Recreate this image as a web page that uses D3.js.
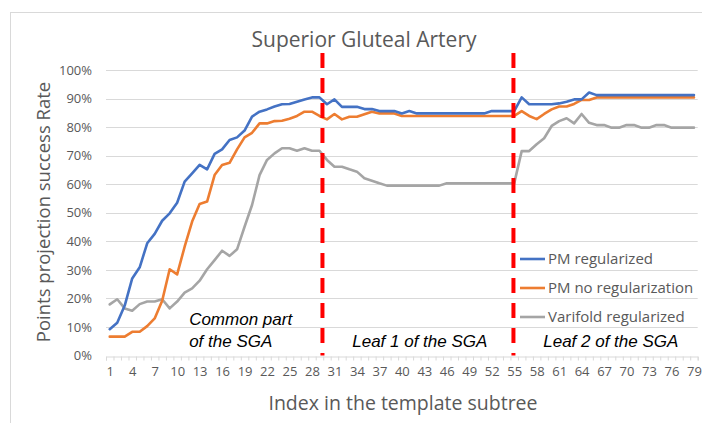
<!DOCTYPE html>
<html>
<head>
<meta charset="utf-8">
<script src="https://cdn.jsdelivr.net/npm/d3@7/dist/d3.min.js"></script>
<style>
  html, body { margin: 0; padding: 0; background: #fff; }
  svg { display: block; }
</style>
</head>
<body>
<svg id="chart" width="702" height="423"></svg>
<script>
// Category indices of the template subtree (1..79)
const categories = d3.range(1, 80);

// Success rate (%) per index
const pmRegularized = [
  9.2, 11.5, 17.5, 27.0, 30.9, 39.3, 42.6, 47.2, 49.8, 53.5,
  60.9, 63.8, 66.8, 65.2, 70.6, 72.2, 75.5, 76.4, 78.8, 83.7,
  85.4, 86.2, 87.2, 88.0, 88.1, 88.9, 89.7, 90.4, 90.4, 88.0,
  89.7, 87.1, 87.1, 87.1, 86.3, 86.3, 85.6, 85.6, 85.6, 84.8,
  85.6, 84.8, 84.8, 84.8, 84.8, 84.8, 84.8, 84.8, 84.8, 84.8,
  84.8, 85.6, 85.6, 85.6, 85.6, 90.4, 88.0, 88.0, 88.0, 88.0,
  88.3, 88.9, 89.7, 89.7, 92.1, 91.2, 91.2, 91.2, 91.2, 91.2,
  91.2, 91.2, 91.2, 91.2, 91.2, 91.2, 91.2, 91.2, 91.2
];
const pmNoRegularization = [
  6.6, 6.6, 6.6, 8.3, 8.3, 10.3, 13.0, 19.2, 30.2, 28.4,
  38.1, 46.9, 53.1, 53.9, 63.2, 66.7, 67.5, 72.2, 76.4, 78.0,
  81.3, 81.3, 82.1, 82.2, 82.9, 83.9, 85.4, 85.4, 83.9, 82.7,
  84.6, 82.7, 83.6, 83.6, 84.5, 85.4, 84.8, 84.8, 84.8, 83.9,
  83.9, 83.9, 83.9, 83.9, 83.9, 83.9, 83.9, 83.9, 83.9, 83.9,
  83.9, 83.9, 83.9, 83.9, 83.9, 85.6, 83.9, 82.8, 84.6, 86.2,
  87.2, 87.2, 88.1, 89.5, 89.5, 90.4, 90.4, 90.4, 90.4, 90.4,
  90.4, 90.4, 90.4, 90.4, 90.4, 90.4, 90.4, 90.4, 90.4
];
const varifoldRegularized = [
  17.9, 19.7, 16.5, 15.7, 18.0, 18.9, 18.9, 19.7, 16.5, 18.9,
  22.0, 23.5, 26.2, 30.2, 33.4, 36.7, 34.9, 37.2, 45.1, 52.7,
  63.2, 68.5, 70.8, 72.6, 72.6, 71.7, 72.6, 71.7, 71.7, 68.5,
  66.1, 66.1, 65.2, 64.4, 62.1, 61.2, 60.3, 59.5, 59.5, 59.5,
  59.5, 59.5, 59.5, 59.5, 59.5, 60.3, 60.3, 60.3, 60.3, 60.3,
  60.3, 60.3, 60.3, 60.3, 60.3, 71.6, 71.6, 74.0, 76.1, 80.4,
  82.1, 83.1, 81.3, 84.6, 81.5, 80.7, 80.7, 79.8, 79.8, 80.7,
  80.7, 79.8, 79.8, 80.7, 80.7, 79.8, 79.8, 79.8, 79.8
];

const seriesNames = ["PM regularized", "PM no regularization", "Varifold regularized"];
const seriesColors = ["#4472C4", "#ED7D31", "#A5A5A5"];

const yTicks = d3.range(0, 101, 10);
const xLabelTicks = d3.range(1, 80, 3);

// Section dividers (category positions) and their captions
const dividers = [29.4, 54.9];
const sectionLabels = [
  { lines: ["Common part", "of the SGA"], at: 11.6, anchor: "start" },
  { lines: ["Leaf 1 of the SGA"], at: 42.4, anchor: "middle" },
  { lines: ["Leaf 2 of the SGA"], at: 67.9, anchor: "middle" }
];

const SANS = "'Open Sans', 'Noto Sans', sans-serif";
const ITALIC = "'Liberation Sans', Arial, sans-serif";

const svg = d3.select("#chart");
const W = 702, H = 423;
const plot = { left: 106, right: 697.7, top: 70, bottom: 355.5 };

// Outer chart frame
svg.append("rect")
  .attr("x", 10.5).attr("y", 12.5)
  .attr("width", W + 20).attr("height", H + 20)
  .attr("fill", "#fff").attr("stroke", "#d9d9d9").attr("stroke-width", 1);

const x = d3.scaleLinear().domain([0.5, 79.5]).range([plot.left, plot.right]);
const y = d3.scaleLinear().domain([0, 100]).range([plot.bottom, plot.top]);

// Horizontal gridlines
svg.append("g")
  .selectAll("line")
  .data(yTicks.filter(d => d > 0))
  .join("line")
  .attr("x1", plot.left).attr("x2", plot.right)
  .attr("y1", d => Math.round(y(d)) + 0.5).attr("y2", d => Math.round(y(d)) + 0.5)
  .attr("stroke", "#d9d9d9").attr("stroke-width", 1);

// Y axis labels
const yAxis = d3.axisLeft(y).tickValues(yTicks).tickSize(0).tickPadding(14)
  .tickFormat(d => d + "%");
svg.append("g")
  .attr("transform", `translate(${plot.left},0)`)
  .call(yAxis)
  .call(g => g.select(".domain").remove())
  .call(g => g.selectAll("text")
    .attr("fill", "#595959").attr("font-size", 13)
    .attr("font-family", SANS));

// X axis: baseline with boundary ticks
const xBoundary = d3.axisBottom(x).tickValues(d3.range(0.5, 80, 1)).tickSize(4).tickFormat("");
svg.append("g")
  .attr("transform", `translate(0,${Math.round(plot.bottom) + 0.5})`)
  .call(xBoundary)
  .call(g => g.select(".domain").attr("stroke", "#d9d9d9"))
  .call(g => g.selectAll(".tick line").attr("stroke", "#d9d9d9"));

// X axis labels every third index
const xLabels = d3.axisBottom(x).tickValues(xLabelTicks).tickSize(0).tickPadding(11)
  .tickFormat(d3.format("d"));
svg.append("g")
  .attr("transform", `translate(0,${plot.bottom})`)
  .call(xLabels)
  .call(g => g.select(".domain").remove())
  .call(g => g.selectAll("text")
    .attr("fill", "#595959").attr("font-size", 13)
    .attr("font-family", SANS));

// Data lines
const allSeries = [pmRegularized, pmNoRegularization, varifoldRegularized];
const line = d3.line()
  .x((d, i) => x(categories[i]))
  .y(d => y(d));

svg.append("g")
  .selectAll("path")
  .data(allSeries.map((v, k) => ({ v, k })).reverse())
  .join("path")
  .attr("d", d => line(d.v))
  .attr("fill", "none")
  .attr("stroke", d => seriesColors[d.k])
  .attr("stroke-width", 2.6)
  .attr("stroke-linejoin", "round")
  .attr("stroke-linecap", "round");

// Red dashed section dividers
svg.append("g")
  .selectAll("line")
  .data(dividers)
  .join("line")
  .attr("x1", d => x(d)).attr("x2", d => x(d))
  .attr("y1", 53).attr("y2", plot.bottom)
  .attr("stroke", "#ff0000").attr("stroke-width", 4)
  .attr("stroke-dasharray", "15,10");

// Section captions
const cap = svg.append("g");
sectionLabels.forEach(s => {
  s.lines.forEach((t, j) => {
    cap.append("text")
      .attr("x", x(s.at))
      .attr("y", 347 - (s.lines.length - 1 - j) * 22)
      .attr("text-anchor", s.anchor)
      .attr("font-family", ITALIC)
      .attr("font-style", "italic")
      .attr("font-size", 17)
      .attr("fill", "#000")
      .text(t);
  });
});

// Legend
const legend = svg.append("g").attr("transform", "translate(520,259)");
seriesNames.forEach((name, i) => {
  const g = legend.append("g").attr("transform", `translate(0,${i * 29})`);
  g.append("line").attr("x1", 0).attr("x2", 25).attr("y1", 0).attr("y2", 0)
    .attr("stroke", seriesColors[i]).attr("stroke-width", 2.6);
  g.append("text").attr("x", 28).attr("y", 0).attr("dy", "0.35em")
    .attr("font-family", SANS)
    .attr("font-size", 15).attr("fill", "#595959").text(name);
});

// Titles
svg.append("text")
  .attr("x", 364).attr("y", 47)
  .attr("text-anchor", "middle")
  .attr("font-family", SANS)
  .attr("font-size", 21).attr("fill", "#595959")
  .text("Superior Gluteal Artery");

svg.append("text")
  .attr("transform", "translate(50,212) rotate(-90)")
  .attr("text-anchor", "middle")
  .attr("font-family", SANS)
  .attr("font-size", 18.5).attr("fill", "#595959")
  .text("Points projection success Rate");

svg.append("text")
  .attr("x", 403).attr("y", 410)
  .attr("text-anchor", "middle")
  .attr("font-family", SANS)
  .attr("font-size", 19.5).attr("fill", "#595959")
  .text("Index in the template subtree");
</script>
</body>
</html>
